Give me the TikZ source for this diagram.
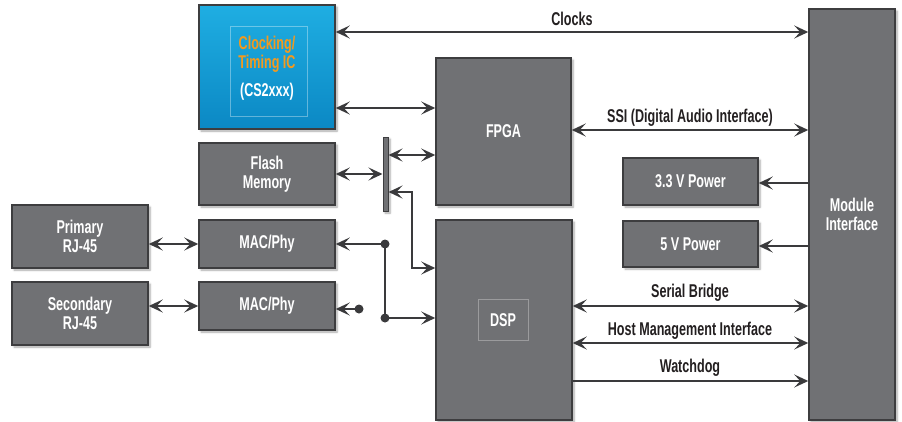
\documentclass[tikz,border=0pt]{standalone}
\usepackage{fontspec}
\setmainfont{Liberation Sans}[FakeStretch=0.68]
\usetikzlibrary{arrows.meta,shadows.blur,calc}
\definecolor{boxgray}{HTML}{707174}
\definecolor{boxedge}{HTML}{3D3D3F}
\definecolor{linec}{HTML}{3A3A3C}
\definecolor{labc}{HTML}{231F20}
\definecolor{orangec}{HTML}{F39A1E}
\definecolor{bluetop}{HTML}{1FAEE2}
\definecolor{bluebot}{HTML}{0B88C4}
\tikzset{
  blk/.style={draw=boxedge, line width=1.5pt, fill=boxgray, inner sep=0pt,
    text=white, align=center, font=\bfseries\fontsize{18.5}{19}\selectfont,
    blur shadow={shadow blur steps=6, shadow xshift=2pt, shadow yshift=-2pt, shadow opacity=35}},
  conn/.style={draw=linec, line width=2.8pt},
  tipA/.tip={Stealth[length=14pt,width=13pt,inset=6pt]},
  lab/.style={text=labc, font=\bfseries\fontsize{18.5}{19}\selectfont, inner sep=0pt},
  dotc/.style={circle, fill=linec, inner sep=0pt, minimum size=9pt},
}
\begin{document}
\begin{tikzpicture}[x=1pt,y=-1pt]
\useasboundingbox (0,0) rectangle (902,421);
% boxes
\node[blk, minimum width=136pt, minimum height=124pt, top color=bluetop, bottom color=bluebot] (clk) at (267,67) {};
\draw[white, opacity=0.35, line width=0.5pt] (230,26) rectangle (307,116);
\node[align=center, inner sep=0pt, font=\bfseries\fontsize{18.5}{19}\selectfont] at (267,68)
  {\textcolor{orangec}{Clocking/}\\\textcolor{orangec}{Timing IC}\\[9pt]\textcolor{white}{(CS2xxx)}};
\node[blk, minimum width=135pt, minimum height=147pt] (fpga) at (503.5,131.5) {FPGA};
\node[blk, minimum width=136pt, minimum height=62pt] (flash) at (267,174) {Flash\\Memory};
\node[blk, minimum width=5pt, minimum height=74pt, line width=1pt] (bar) at (385.5,174) {};
\node[blk, minimum width=136pt, minimum height=48pt] (mac1) at (267,244) {MAC/Phy};
\node[blk, minimum width=136pt, minimum height=48pt] (mac2) at (267,306) {MAC/Phy};
\node[blk, minimum width=136pt, minimum height=63pt] (prim) at (80,236.5) {Primary\\RJ-45};
\node[blk, minimum width=136pt, minimum height=63pt] (sec) at (80,313.5) {Secondary\\RJ-45};
\node[blk, minimum width=136pt, minimum height=200pt] (dsp) at (504,320) {};
\draw[white, opacity=0.3, line width=0.5pt] (478,299) rectangle (528,340);
\node[text=white, font=\bfseries\fontsize{18.5}{19}\selectfont, inner sep=0pt] at (503,320) {DSP};
\node[blk, minimum width=86pt, minimum height=411pt] (mod) at (852,214.5) {Module\\Interface};
\node[blk, minimum width=135pt, minimum height=47pt] (p33) at (690.5,181.5) {3.3 V Power};
\node[blk, minimum width=135pt, minimum height=46pt] (p5) at (690.5,244) {5 V Power};
% connectors
\draw[conn, tipA-tipA] (clk.east |- 0,32) -- (mod.west |- 0,32);
\node[lab] at (572,19) {Clocks};
\draw[conn, tipA-tipA] (clk.east |- 0,108) -- (fpga.west |- 0,108);
\draw[conn, tipA-tipA] (fpga.east |- 0,130) -- (mod.west |- 0,130);
\node[lab] at (690,118) {SSI (Digital Audio Interface)};
\draw[conn, tipA-tipA] (bar.east |- 0,155) -- (fpga.west |- 0,155);
\draw[conn, tipA-tipA] (flash.east |- 0,174) -- (bar.west |- 0,174);
\draw[conn, tipA-tipA] (bar.east |- 0,192) -| (412,268) -- (dsp.west |- 0,268);
\draw[conn, -tipA] (mod.west |- 0,183) -- (p33.east |- 0,183);
\draw[conn, -tipA] (mod.west |- 0,246) -- (p5.east |- 0,246);
\draw[conn, tipA-tipA] (prim.east |- 0,244) -- (mac1.west |- 0,244);
\draw[conn, tipA-tipA] (sec.east |- 0,306) -- (mac2.west |- 0,306);
\node[dotc] (d1) at (385,244) {};
\node[dotc] (d2) at (385,318) {};
\node[dotc] (d3) at (359,309) {};
\draw[conn, -tipA] (d1.center) -- (mac1.east |- d1);
\draw[conn] (d1.center) -- (d2.center);
\draw[conn, -tipA] (d2.center) -- (dsp.west |- d2);
\draw[conn, -tipA] (d3.center) -- (mac2.east |- d3);
\draw[conn, tipA-tipA] (dsp.east |- 0,306) -- (mod.west |- 0,306);
\node[lab] at (690,293) {Serial Bridge};
\draw[conn, tipA-tipA] (dsp.east |- 0,343) -- (mod.west |- 0,343);
\node[lab] at (690,331) {Host Management Interface};
\draw[conn, -tipA] (dsp.east |- 0,381) -- (mod.west |- 0,381);
\node[lab] at (690,368) {Watchdog};
\end{tikzpicture}
\end{document}
